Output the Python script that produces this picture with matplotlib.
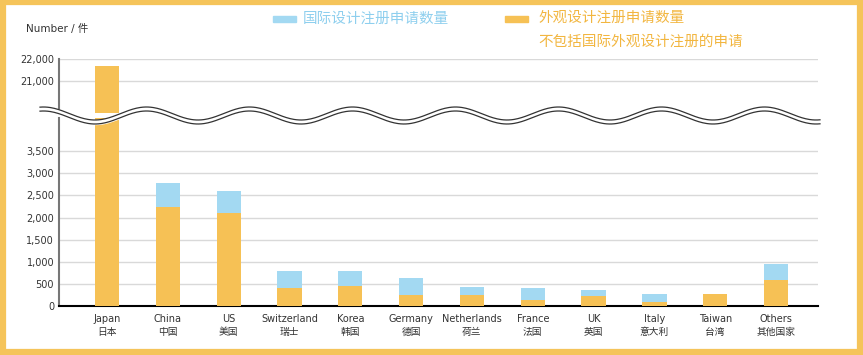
import matplotlib
matplotlib.use("Agg")
import matplotlib.pyplot as plt
from matplotlib.patches import Rectangle
import numpy as np

plt.rcParams['font.family'] = ['DejaVu Sans', 'Noto Sans CJK SC']

# 数据
countries_en = ['Japan', 'China', 'US', 'Switzerland', 'Korea', 'Germany',
                'Netherlands', 'France', 'UK', 'Italy', 'Taiwan', 'Others']
countries_cn = ['日本', '中国', '美国', '瑞士', '韩国', '德国',
                '荷兰', '法国', '英国', '意大利', '台湾', '其他国家']
# 外观设计注册申请数量（不包括国际外观设计注册）
domestic = [21700, 2250, 2110, 415, 455, 250, 245, 145, 228, 100, 270, 590]
# 国际设计注册申请数量
international = [0, 530, 490, 375, 335, 385, 185, 262, 134, 172, 0, 360]

lower_ticks = [0, 500, 1000, 1500, 2000, 2500, 3000, 3500]
upper_ticks = [21000, 22000]

orange = '#F6C155'
blue = '#A3D9F2'
W, H = 863, 355

fig = plt.figure(figsize=(W / 100, H / 100), dpi=100)

def px_axes(x0, y0, x1, y1):
    # 像素坐标（左上原点）转为 figure 坐标
    return fig.add_axes([x0 / W, 1 - y1 / H, (x1 - x0) / W, (y1 - y0) / H])

ax_lo = px_axes(59, 118, 818, 306)
ax_hi = px_axes(59, 59, 818, 113)

x = np.arange(len(countries_en))
for ax in (ax_lo, ax_hi):
    ax.bar(x, domestic, width=0.4, color=orange, zorder=3)
    ax.bar(x, international, width=0.4, bottom=domestic, color=blue, zorder=3)
    ax.set_xlim(-0.79, 11.69)
    ax.grid(axis='y', color='#d9d9d9', linewidth=1, zorder=0)
    ax.tick_params(axis='both', length=0, labelsize=7, colors='#333333')
    for s in ['top', 'right']:
        ax.spines[s].set_visible(False)
    ax.spines['left'].set_color('#777777')
    ax.spines['left'].set_linewidth(1.5)

ax_lo.set_ylim(0, 4253)
ax_lo.set_yticks(lower_ticks)
ax_lo.set_yticklabels([f'{v:,}' for v in lower_ticks])
ax_lo.spines['bottom'].set_color('black')
ax_lo.spines['bottom'].set_linewidth(1.5)
ax_lo.set_xticks(x)
ax_lo.set_xticklabels([f'{e}\n{c}' for e, c in zip(countries_en, countries_cn)],
                      fontsize=7, linespacing=1.3)
ax_lo.tick_params(axis='x', pad=6)

ax_hi.set_ylim(19545, 22000)
ax_hi.set_yticks(upper_ticks)
ax_hi.set_yticklabels([f'{v:,}' for v in upper_ticks])
ax_hi.spines['bottom'].set_visible(False)
ax_hi.set_xticks([])

# 覆盖层：断轴波浪线、图例、边框
ov = fig.add_axes([0, 0, 1, 1], zorder=10)
ov.set_xlim(0, W)
ov.set_ylim(H, 0)
ov.axis('off')
ov.patch.set_alpha(0)

wx = np.linspace(40, 820, 600)
wy = 115.5 + 6.5 * np.cos(2 * np.pi * (wx - 95) / 103)
ov.fill_between(wx, wy - 2, wy + 2, color='white', zorder=1)
ov.plot(wx, wy - 2, color='#333333', linewidth=0.9, zorder=2)
ov.plot(wx, wy + 2, color='#333333', linewidth=0.9, zorder=2)

ov.text(26, 29, 'Number / 件', fontsize=7.5, color='#333333', va='center', ha='left')

ov.add_patch(Rectangle((273, 16), 23, 6, color=blue))
ov.text(303, 19, '国际设计注册申请数量', fontsize=10.5, color='#8ECFEE',
        va='center', ha='left', family=['Noto Sans CJK SC'])
ov.add_patch(Rectangle((505, 16), 23, 6, color=orange))
ov.text(538, 18, '外观设计注册申请数量', fontsize=10.5, color='#F2B640',
        va='center', ha='left', family=['Noto Sans CJK SC'])
ov.text(538, 42, '不包括国际外观设计注册的申请', fontsize=10.5, color='#F2B640',
        va='center', ha='left', family=['Noto Sans CJK SC'])

ov.add_patch(Rectangle((2.5, 2), W - 6, H - 5.5, fill=False,
                       edgecolor='#F5C45A', linewidth=4.5))

fig.savefig('out.png', dpi=100)
